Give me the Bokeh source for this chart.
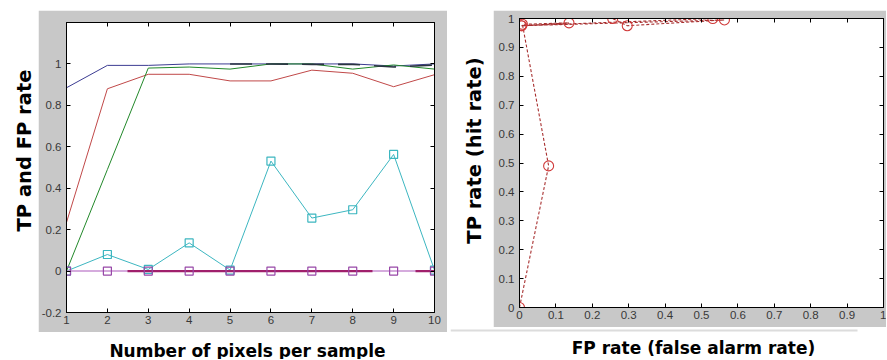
import math
from bokeh.plotting import figure
from bokeh.layouts import row, column
from bokeh.models import (Range1d, LinearAxis, FixedTicker, CustomJSTickFormatter,
                          Label, Spacer)
from bokeh.embed import file_html
from bokeh.resources import INLINE

nan = float("nan")

# ---------------- data ----------------
samples = [1, 2, 3, 4, 5, 6, 7, 8, 9, 10]
tp_blue = [0.885, 0.993, 0.993, 1.0, 1.0, 1.0, 1.0, 1.0, 0.99, 1.0]
tp_red = [0.235, 0.88, 0.95, 0.95, 0.918, 0.918, 0.97, 0.955, 0.89, 0.948]
tp_green = [0.0, 0.49, 0.98, 0.985, 0.975, 1.0, 1.0, 0.975, 0.995, 0.975]
tp_black = [nan, nan, nan, nan, 1.0, 1.0, 0.998, 0.998, 0.985, 0.995]
fp_cyan = [0.0, 0.08, 0.008, 0.136, 0.005, 0.531, 0.256, 0.296, 0.563, 0.005]
fp_magenta = [0.0, 0.0, 0.0, 0.0, 0.0, 0.0, 0.0, 0.0, 0.0, 0.0]
fp_dark = [0.0, 0.0, 0.0, 0.0, 0.0, 0.0, 0.0, 0.0, 0.0, 0.0]

# ROC: FP rate (cyan) vs TP rate (green)
roc_fp = fp_cyan
roc_tp = tp_green

left_xticks = [1, 2, 3, 4, 5, 6, 7, 8, 9, 10]
left_yticks = [-0.2, 0, 0.2, 0.4, 0.6, 0.8, 1]
right_ticks = [0, 0.1, 0.2, 0.3, 0.4, 0.5, 0.6, 0.7, 0.8, 0.9, 1]

left_xlabel = "Number of pixels per sample"
left_ylabel = "TP and FP rate"
right_xlabel = "FP rate (false alarm rate)"
right_ylabel = "TP rate (hit rate)"

# ---------------- style ----------------
GRAY = "#c8c8c8"
TICK_FONT = "Liberation Sans"
TITLE_FONT = "DejaVu Sans"


def fmt():
    return CustomJSTickFormatter(code="return String(Number(tick.toFixed(2)));")


def style_box(p, xticks, yticks):
    p.add_layout(LinearAxis(), "above")
    p.add_layout(LinearAxis(), "right")
    for ax in p.xaxis:
        ax.ticker = FixedTicker(ticks=xticks)
    for ax in p.yaxis:
        ax.ticker = FixedTicker(ticks=yticks)
    for ax in p.axis:
        ax.major_tick_in = 4
        ax.major_tick_out = 0
        ax.minor_tick_line_color = None
        ax.axis_line_color = "black"
        ax.major_tick_line_color = "black"
        ax.formatter = fmt()
        ax.major_label_text_font = TICK_FONT
        ax.major_label_text_font_size = "11.5px"
        ax.major_label_text_color = "#383838"
    p.below[0].major_label_standoff = 3
    p.left[0].major_label_standoff = 5
    for ax in (p.above[0], p.right[0]):
        ax.formatter = CustomJSTickFormatter(code="return '';")
        ax.major_label_text_font_size = "1px"
        ax.major_label_standoff = 0
    p.grid.visible = False
    p.outline_line_color = "black"


def text_fig(w, h, txt, x, y, angle=0, size="17px"):
    f = figure(width=w, height=h, x_range=Range1d(0, w), y_range=Range1d(0, h),
               x_axis_type=None, y_axis_type=None, min_border=0,
               toolbar_location=None, output_backend="svg", title=None,
               outline_line_color=None, border_fill_color="white",
               background_fill_color="white")
    f.add_layout(Label(x=x, y=y, text=txt, angle=angle, angle_units="deg",
                       text_align="center", text_baseline="middle",
                       text_font=TITLE_FONT, text_font_style="bold",
                       text_font_size=size, text_color="black"))
    return f


# ---------------- left chart ----------------
pl = figure(width=409, height=322, x_range=Range1d(1, 10), y_range=Range1d(-0.2, 1.2),
            min_border_left=28, min_border_right=13, min_border_top=12, min_border_bottom=20,
            border_fill_color=GRAY, background_fill_color="white",
            toolbar_location=None, output_backend="svg", title=None)
style_box(pl, left_xticks, left_yticks)

pl.line(samples, tp_blue, line_color="#3c3c92", line_width=1)
pl.line(samples, tp_red, line_color="#c04848", line_width=1)
pl.line(samples, tp_green, line_color="#22882a", line_width=1)
pl.line(samples, tp_black, line_color="#2a3440", line_width=1.6, line_dash="22 14")
pl.line(samples, fp_cyan, line_color="#3cb6c0", line_width=1)
pl.scatter(samples, fp_cyan, marker="square", size=8, fill_color=None,
           line_color="#3cb6c0", line_width=1.2)
pl.line(samples, fp_magenta, line_color="#c890d2", line_width=1.5)
pl.line(samples, fp_dark, line_color="#a0206c", line_width=2.2,
        line_dash="0 61 245 43 400")
pl.scatter(samples, fp_magenta, marker="square", size=8, fill_color=None,
           line_color="#9848a8", line_width=1.2)

# ---------------- right chart ----------------
pr = figure(width=393, height=317, x_range=Range1d(0, 1), y_range=Range1d(0, 1),
            min_border_left=26, min_border_right=3, min_border_top=8, min_border_bottom=20,
            border_fill_color=GRAY, background_fill_color="white",
            toolbar_location=None, output_backend="svg", title=None)
style_box(pr, right_ticks, right_ticks)
pr.line(roc_fp, roc_tp, line_color="#a83030", line_width=1.1, line_dash="3 2")
pr.scatter(roc_fp, roc_tp, marker="circle", size=10, fill_color=None,
           line_color="#d03a3a", line_width=1.1)

# ---------------- titles ----------------
ytl = text_fig(38, 332, left_ylabel, 24, 182, angle=90, size="19.5px")
xtl = text_fig(450, 27, left_xlabel, 247, 9)
ytr = text_fig(43, 327, right_ylabel, 24, 177, angle=90, size="19.5px")
xtr = text_fig(436, 32, right_xlabel, 243, 12)
# thin separator line under the right chart
xtr.line([0, 407], [29, 29], line_color="#dcdcdc", line_width=2)

left = column(row(ytl, column(Spacer(width=409, height=10), pl),
                  Spacer(width=3, height=332)), xtl)
right = column(row(ytr, column(Spacer(width=393, height=10), pr)), xtr)
layout = row(left, right)

open("out.html", "w").write(file_html(layout, INLINE))
